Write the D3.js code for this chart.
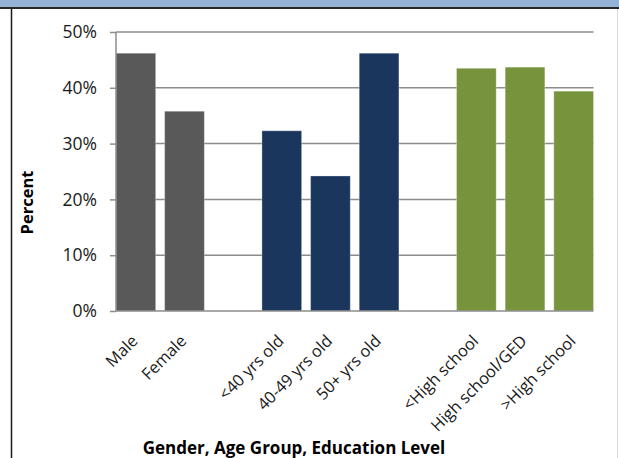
<!DOCTYPE html>
<html>
<head>
<meta charset="utf-8">
<script src="https://cdn.jsdelivr.net/npm/d3@7"></script>
<style>
  html, body { margin: 0; padding: 0; background: #ffffff; }
  svg { display: block; }
</style>
</head>
<body>
<svg id="chart" width="619" height="458"></svg>
<script>
// ---- data ----
const categories = ["Male", "Female", "gap1", "<40 yrs old", "40-49 yrs old", "50+ yrs old", "gap2", "<High school", "High school/GED", ">High school"];
const labels     = ["Male", "Female", "", "<40 yrs old", "40-49 yrs old", "50+ yrs old", "", "<High school", "High school/GED", ">High school"];
const values     = [46.2, 35.8, null, 32.3, 24.2, 46.2, null, 43.5, 43.7, 39.4];
const groups     = ["Gender", "Gender", null, "Age", "Age", "Age", null, "Education", "Education", "Education"];
const groupNames = ["Gender", "Age", "Education"];
const groupColors = ["#595959", "#1B365D", "#77933C"];
const yTicks     = [0, 10, 20, 30, 40, 50];
const yTitle = "Percent";
const xTitle = "Gender, Age Group, Education Level";

const FONT = "'Open Sans', 'Noto Sans', sans-serif";
const svg = d3.select("#chart");

// helper: font size so that a sample string reaches a target width
function fitSize(sample, target, weight) {
  const t = svg.append("text").attr("font-family", FONT).attr("font-size", "20px")
    .attr("font-weight", weight || "normal").text(sample);
  const w = t.node().getComputedTextLength();
  t.remove();
  return w > 0 ? 20 * target / w : 17;
}

// ---- frame ----
svg.append("rect").attr("x", 0).attr("y", 0).attr("width", 619).attr("height", 7).attr("fill", "#95B3D7");
svg.append("line").attr("x1", 0).attr("x2", 619).attr("y1", 8).attr("y2", 8).attr("stroke", "#262626").attr("stroke-width", 2);
svg.append("line").attr("x1", 11.5).attr("x2", 11.5).attr("y1", 9).attr("y2", 458).attr("stroke", "#1a1a1a").attr("stroke-width", 1.5);
svg.append("line").attr("x1", 617.5).attr("x2", 617.5).attr("y1", 9).attr("y2", 458).attr("stroke", "#dadada").attr("stroke-width", 1);

// ---- scales ----
const x = d3.scaleBand().domain(categories).range([116, 593.5]).paddingInner(0.184).paddingOuter(0);
const y = d3.scaleLinear().domain([0, 50]).range([311, 32]);
const color = d3.scaleOrdinal().domain(groupNames).range(groupColors);

const yLabelSize = Math.min(19, fitSize("50%", 34.5));
const xLabelSize = Math.min(19, fitSize("High school/GED", 128));

// ---- gridlines ----
svg.append("g").selectAll("line").data(yTicks.filter(d => d > 0)).join("line")
  .attr("x1", 116).attr("x2", 593.5)
  .attr("y1", d => y(d)).attr("y2", d => y(d))
  .attr("stroke", "#8c8c8c").attr("stroke-width", 1.5);

// ---- bars ----
const rows = categories.map((c, i) => ({ c, v: values[i], g: groups[i] })).filter(d => d.v != null);
svg.append("g").selectAll("rect").data(rows).join("rect")
  .attr("x", d => x(d.c))
  .attr("width", x.bandwidth())
  .attr("y", d => y(d.v))
  .attr("height", d => y(0) - y(d.v))
  .attr("fill", d => color(d.g))
  .attr("stroke", "#ffffff").attr("stroke-opacity", 0.3).attr("stroke-width", 1);

// ---- y axis ----
const yAxis = svg.append("g").attr("transform", "translate(116,0)")
  .call(d3.axisLeft(y).tickValues(yTicks).tickFormat(d => d + "%").tickSize(6).tickSizeOuter(0).tickPadding(13));
yAxis.select(".domain").remove();
yAxis.selectAll(".tick line").attr("stroke", "#8c8c8c").attr("stroke-width", 1.5);
yAxis.selectAll(".tick text").attr("font-family", FONT).attr("font-size", yLabelSize + "px").attr("fill", "#1a1a1a");
svg.append("line").attr("x1", 116).attr("x2", 116).attr("y1", y(50)).attr("y2", y(0))
  .attr("stroke", "#8c8c8c").attr("stroke-width", 1.5);

// ---- x axis ----
const xAxis = svg.append("g").attr("transform", "translate(0,311)")
  .call(d3.axisBottom(x).tickSize(0).tickFormat(d => labels[categories.indexOf(d)]));
xAxis.select(".domain").remove();
xAxis.selectAll(".tick text")
  .attr("font-family", FONT).attr("font-size", xLabelSize + "px").attr("fill", "#1a1a1a")
  .attr("text-anchor", "end")
  .attr("x", 0).attr("y", 0).attr("dy", 0)
  .attr("transform", "translate(3,31) rotate(-45)");
svg.append("line").attr("x1", 116).attr("x2", 593.5).attr("y1", y(0)).attr("y2", y(0))
  .attr("stroke", "#8c8c8c").attr("stroke-width", 1.5);

// ---- titles ----
svg.append("text").attr("transform", "translate(33,202.5) rotate(-90)")
  .attr("text-anchor", "middle").attr("font-family", FONT).attr("font-weight", "bold")
  .attr("font-size", "16.5px").attr("fill", "#000").text(yTitle);
svg.append("text").attr("x", 294).attr("y", 454)
  .attr("text-anchor", "middle").attr("font-family", FONT).attr("font-weight", "bold")
  .attr("font-size", "17px").attr("fill", "#000").text(xTitle);
</script>
</body>
</html>
